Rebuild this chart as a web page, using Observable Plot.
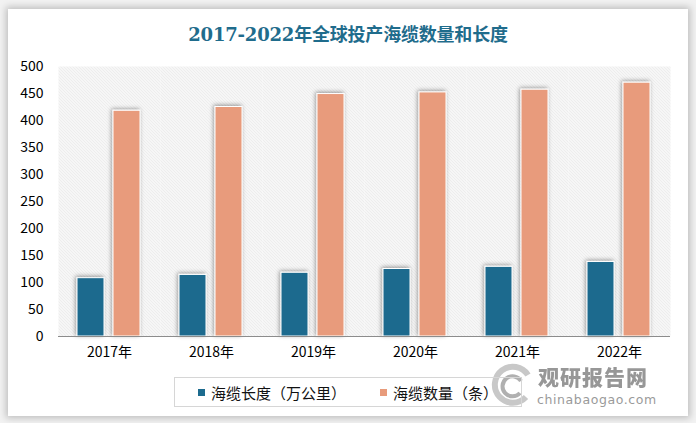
<!DOCTYPE html>
<html>
<head>
<meta charset="utf-8">
<script src="https://cdn.jsdelivr.net/npm/d3@7"></script>
<script src="https://cdn.jsdelivr.net/npm/@observablehq/plot@0.6"></script>
<style>
  html, body { margin: 0; padding: 0; background: #f2f2f2; }
  body { width: 696px; height: 423px; position: relative; overflow: hidden; }
  #card { position: absolute; left: 8px; top: 9px; width: 680px; height: 407px; background: #fff;
          box-shadow: 0 0 7px 2px rgba(0,0,0,0.22); }
  #title { position: absolute; left: 0; top: 22px; width: 696px; text-align: center;
           font-family: "DejaVu Serif", "Noto Sans CJK SC", serif; font-weight: bold; font-size: 18px;
           color: #1f6c8c; line-height: 26px; letter-spacing: -0.2px; }
  #chart { position: absolute; left: 0; top: 0; }
  #legend { position: absolute; left: 174px; top: 377px; width: 346px; height: 28px; border: 1px solid #d6d6d6;
            display: flex; align-items: center; justify-content: center; gap: 34px;
            font-family: "Noto Sans CJK SC", sans-serif; font-size: 15px; color: #111; }
  #legend .item { display: flex; align-items: center; gap: 6px; }
  #legend .sw { width: 7px; height: 7px; display: inline-block; }
  #wm { position: absolute; left: 488px; top: 366px; width: 180px; height: 44px; }
  #wm .cn { position: absolute; left: 50px; top: 0px; font-family: "Noto Sans CJK SC", sans-serif; font-weight: 900;
            font-size: 21px; color: #8c8c8c; line-height: 21px; opacity: 0.9; white-space: nowrap; letter-spacing: 1px; }
  #wm .en { position: absolute; left: 49px; top: 28px; font-family: "DejaVu Sans", sans-serif;
            font-size: 12.5px; color: #9a9a9a; line-height: 12px; letter-spacing: 0.6px; white-space: nowrap; }
</style>
</head>
<body>
<div id="card"></div>
<div id="wm">
  <svg width="50" height="44" style="position:absolute;left:0;top:-3px">
    <path d="M40,12 A18,18 0 1 0 38,34" fill="none" stroke="#c8c8c8" stroke-width="6"/>
    <path d="M33,18 A10,10 0 1 0 32,30" fill="none" stroke="#b0b0b0" stroke-width="4"/>
  </svg>
  <div class="cn">观研报告网</div>
  <div class="en">chinabaogao.com</div>
</div>
<div id="title">2017-2022年全球投产海缆数量和长度</div>
<div id="chart"></div>
<div id="legend">
  <span class="item"><span class="sw" style="background:#1c6b8e"></span>海缆长度（万公里）</span>
  <span class="item"><span class="sw" style="background:#e89b7b"></span>海缆数量（条）</span>
</div>
<script>
const years = ["2017", "2018", "2019", "2020", "2021", "2022"];
const seriesNames = ["海缆长度（万公里）", "海缆数量（条）"];
const cableLength = [108, 114, 118, 125, 129, 138];
const cableCount = [418, 425, 449, 452, 457, 470];
const yTicks = [0, 50, 100, 150, 200, 250, 300, 350, 400, 450, 500];
const colors = ["#1c6b8e", "#e89b7b"];

const data = [];
years.forEach((y, i) => {
  data.push({year: y, series: seriesNames[0], value: cableLength[i]});
  data.push({year: y, series: seriesNames[1], value: cableCount[i]});
});

const chart = Plot.plot({
  width: 696,
  height: 423,
  marginLeft: 58,
  marginRight: 26,
  marginTop: 66,
  marginBottom: 87,
  style: {fontFamily: "'Noto Sans CJK SC', sans-serif", fontSize: "14px", color: "#000", background: "transparent", overflow: "visible"},
  fx: {domain: years, padding: 0, tickFormat: d => d + "年", tickSize: 0, tickPadding: 11, label: null},
  x: {domain: seriesNames, paddingInner: 0.247, paddingOuter: 0.521, axis: null},
  y: {domain: [0, 500], ticks: yTicks, tickSize: 0, tickPadding: 15, label: null, line: false},
  color: {domain: seriesNames, range: colors},
  marks: [
    Plot.frame({fill: "url(#hatch)", stroke: null}),
    Plot.barY(data, {fx: "year", x: "series", y: "value", fill: "series", stroke: "#fff", strokeWidth: 1}),
    Plot.ruleY([0], {stroke: "#8c8c8c", strokeWidth: 1})
  ]
});

const svg = d3.select(chart);
const defs = svg.insert("defs", ":first-child");
const pat = defs.append("pattern").attr("id", "hatch").attr("patternUnits", "userSpaceOnUse")
  .attr("width", 3).attr("height", 3);
pat.append("rect").attr("width", 3).attr("height", 3).attr("fill", "#fff");
pat.append("path").attr("d", "M0,0L3,3M-1,2L1,4M2,-1L4,1")
  .attr("stroke", "#d2d2d2").attr("stroke-width", 0.8);
const f = defs.append("filter").attr("id", "shadow").attr("x", "-40%").attr("y", "-10%").attr("width", "180%").attr("height", "120%");
f.append("feDropShadow").attr("dx", -1).attr("dy", -1).attr("stdDeviation", 2.2)
  .attr("flood-color", "#000").attr("flood-opacity", 0.4);
svg.selectAll("g[aria-label='bar'] rect").attr("filter", "url(#shadow)");

document.getElementById("chart").appendChild(chart);
</script>
</body>
</html>
